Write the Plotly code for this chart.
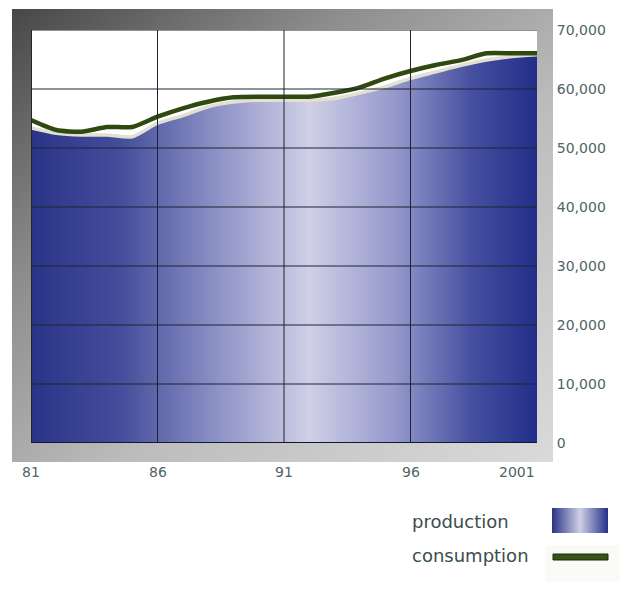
import base64
import plotly.graph_objects as go

# ---------------- data ----------------
years = list(range(1981, 2002))
production = [53400, 52500, 52200, 52200, 51900, 54200, 55500, 57000, 57800, 58100,
              58100, 58100, 58400, 59300, 60400, 61800, 62900, 64000, 64900, 65500, 65800]
consumption = [54750, 53050, 52760, 53560, 53560, 55300, 56730, 57850, 58590, 58700,
               58700, 58700, 59370, 60290, 61810, 63050, 64070, 64900, 66050, 66050, 66050]

y_tick_values = [0, 10000, 20000, 30000, 40000, 50000, 60000, 70000]
y_tick_labels = ["0", "10,000", "20,000", "30,000", "40,000", "50,000", "60,000", "70,000"]
x_tick_years = [1981, 1986, 1991, 1996, 2001]
x_tick_labels = ["81", "86", "91", "96", "2001"]
legend_labels = ["production", "consumption"]

# ---------------- geometry helpers (screen pixels; page has an 8px body margin) ----------------
OFF = 8
W, H = 628 - OFF, 592 - OFF
L, R, T, B = 31, 537, 30, 443   # plot area in screen pixels


def px(x):
    return (x - L) / (R - L)


def py(y):
    return (B - y) / (B - T)


def svg_uri(svg):
    return "data:image/svg+xml;base64," + base64.b64encode(svg.encode()).decode()


frame_svg = (
    '<svg xmlns="http://www.w3.org/2000/svg" width="540" height="454" viewBox="0 0 540 454" '
    'preserveAspectRatio="none"><defs><linearGradient id="g" x1="0" y1="0" x2="1" y2="1">'
    '<stop offset="0" stop-color="#474747"/><stop offset="0.3" stop-color="#8c8c8c"/>'
    '<stop offset="0.6" stop-color="#bcbcbc"/><stop offset="1" stop-color="#dadada"/>'
    '</linearGradient></defs><rect width="540" height="454" fill="url(#g)"/></svg>'
)

swatch_svg = (
    '<svg xmlns="http://www.w3.org/2000/svg" width="56" height="25" viewBox="0 0 56 25" '
    'preserveAspectRatio="none"><defs><linearGradient id="s" x1="0" y1="0" x2="1" y2="0">'
    '<stop offset="0" stop-color="#2a3487"/><stop offset="0.5" stop-color="#cfcfe6"/>'
    '<stop offset="1" stop-color="#24308a"/></linearGradient></defs>'
    '<rect width="56" height="25" fill="url(#s)"/></svg>'
)

blue_scale = [
    [0.0, "#2a3487"], [0.18, "#454e9c"], [0.38, "#9296c8"], [0.55, "#cfcfe6"],
    [0.72, "#9498cb"], [0.87, "#4650a0"], [1.0, "#222e88"],
]

fig = go.Figure()

fig.add_trace(go.Scatter(
    x=years, y=production, mode="lines", fill="tozeroy",
    fillgradient=dict(type="horizontal", colorscale=blue_scale),
    line=dict(color="#e2e0d0", width=3.5, shape="spline", smoothing=0.6),
    showlegend=False, hoverinfo="skip",
))
fig.add_trace(go.Scatter(
    x=years, y=consumption, mode="lines",
    line=dict(color="#2f4a10", width=4.5, shape="spline", smoothing=0.6),
    showlegend=False, hoverinfo="skip",
))

shapes = []
# white plot background above the frame image
shapes.append(dict(type="rect", xref="x", yref="y", x0=years[0], x1=years[-1], y0=0, y1=y_tick_values[-1],
                   fillcolor="white", line=dict(width=0), layer="below"))
grid_col = "#1c2433"
for v in y_tick_values[1:]:
    shapes.append(dict(type="line", xref="x", yref="y", x0=years[0], x1=years[-1], y0=v, y1=v,
                       line=dict(color=grid_col, width=1), layer="above"))
for yr in x_tick_years[1:-1]:
    shapes.append(dict(type="line", xref="x", yref="y", x0=yr, x1=yr, y0=0, y1=y_tick_values[-1],
                       line=dict(color=grid_col, width=1), layer="above"))
# plot borders (left, bottom)
shapes.append(dict(type="line", xref="x", yref="y", x0=years[0], x1=years[0], y0=0, y1=y_tick_values[-1],
                   line=dict(color="#1a2a2a", width=2), layer="above"))
shapes.append(dict(type="line", xref="x", yref="y", x0=years[0], x1=years[-1], y0=0, y1=0,
                   line=dict(color="#101a28", width=2), layer="above"))

# legend consumption swatch
shapes.append(dict(type="rect", xref="paper", yref="paper", x0=px(545), x1=px(620), y0=py(582), y1=py(545),
                   fillcolor="#fafaf7", line=dict(width=0), layer="above"))
shapes.append(dict(type="rect", xref="paper", yref="paper", x0=px(553), x1=px(608), y0=py(560), y1=py(554),
                   fillcolor="#3a5214", line=dict(color="#1a2a0a", width=1), layer="above"))

images = [
    dict(source=svg_uri(frame_svg), xref="paper", yref="paper", x=px(12), y=py(9),
         sizex=px(553) - px(12), sizey=py(9) - py(462), xanchor="left", yanchor="top",
         sizing="stretch", layer="below"),
    dict(source=svg_uri(swatch_svg), xref="paper", yref="paper", x=px(552), y=py(508),
         sizex=px(608) - px(552), sizey=py(508) - py(533), xanchor="left", yanchor="top",
         sizing="stretch", layer="above"),
]

label_col = "#4f6464"
annotations = []
for i, (yr, lab) in enumerate(zip(x_tick_years, x_tick_labels)):
    annotations.append(dict(
        x=yr, y=py(472), xref="x", yref="paper", text=lab, showarrow=False,
        xanchor="right" if i == len(x_tick_years) - 1 else "center", yanchor="middle",
        font=dict(family="DejaVu Sans", size=14, color=label_col),
    ))
for lab, ypix in zip(legend_labels, [521, 555]):
    annotations.append(dict(
        x=px(410), y=py(ypix), xref="paper", yref="paper", text=lab, showarrow=False,
        xanchor="left", yanchor="middle",
        font=dict(family="DejaVu Sans", size=18, color="#3c4c4c"),
    ))

fig.update_layout(
    width=W, height=H,
    margin=dict(l=L - OFF, r=W - (R - OFF), t=T - OFF, b=H - (B - OFF), pad=0),
    paper_bgcolor="white", plot_bgcolor="white",
    showlegend=False,
    xaxis=dict(range=[years[0], years[-1]], showgrid=False, zeroline=False,
               showticklabels=False, ticks="", showline=False, fixedrange=True),
    yaxis=dict(range=[0, y_tick_values[-1]], side="right", showgrid=False, zeroline=False,
               tickvals=y_tick_values, ticktext=y_tick_labels, ticks="outside", ticklen=16,
               tickcolor="rgba(0,0,0,0)", showline=False, fixedrange=True,
               tickfont=dict(family="DejaVu Sans", size=14, color=label_col)),
    shapes=shapes, images=images, annotations=annotations,
)

fig.write_html("out.html")
